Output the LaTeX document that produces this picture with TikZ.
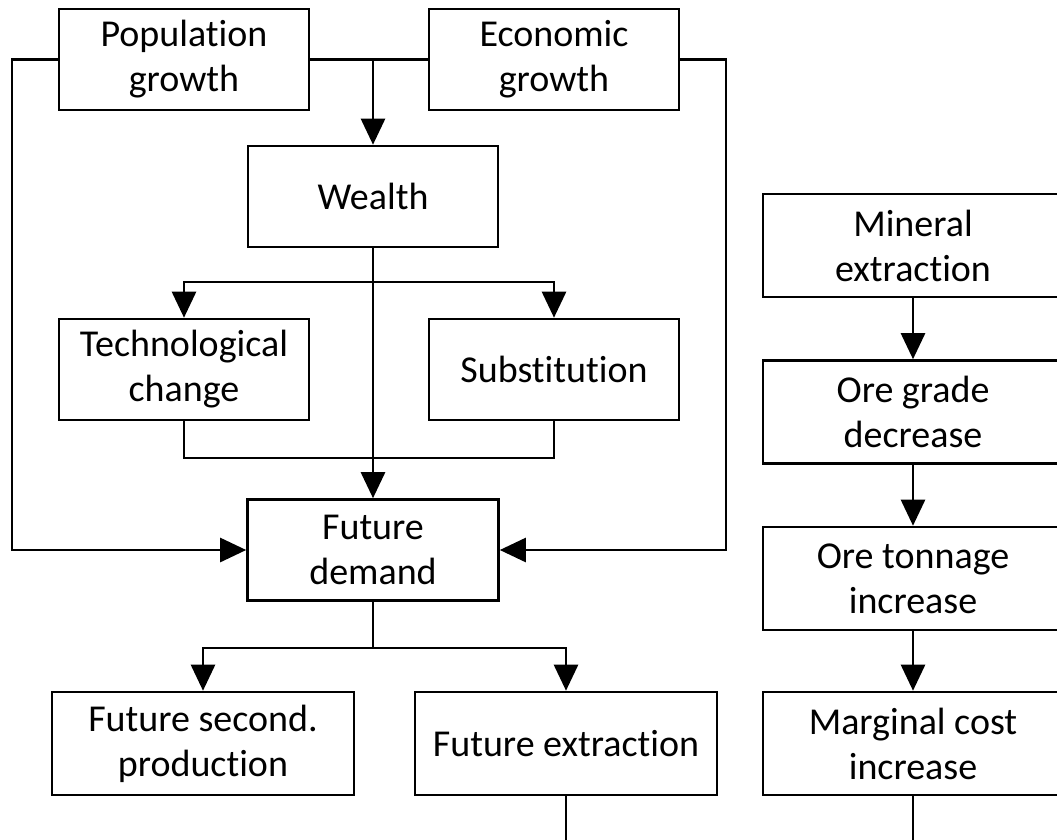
\documentclass[tikz,border=0pt]{standalone}
\usepackage{fontspec}
\setmainfont[Ligatures=NoCommon]{Carlito}
\usetikzlibrary{arrows.meta}

\begin{document}
\begin{tikzpicture}[x=1pt,y=-1pt,
  box/.style={draw, line width=2.6pt, rectangle, align=center, inner sep=0pt,
    minimum width=250pt, minimum height=101pt,
    font=\fontsize{38}{45}\selectfont},
  widebox/.style={box, minimum width=302pt, minimum height=103pt},
  lowtext/.style={execute at begin node={\rule{0pt}{34pt}}},
  link/.style={line width=2.6pt},
  arr/.style={link, -{Triangle[length=26pt,width=24pt]}}]
\useasboundingbox (0,0) rectangle (1057,839);
\clip (0,0) rectangle (1057,839);

% demand side
\node[box, lowtext] (pop)    at (184,59.5)  {Population\\growth};
\node[box, lowtext] (econ)   at (554,59.5)  {Economic\\growth};
\node[box] (wealth) at (373,196.5) {Wealth};
\node[box, lowtext] (tech)   at (184,369.5) {Technological\\change};
\node[box] (subst)  at (554,369.5) {Substitution};
\node[box, lowtext, minimum width=251pt] (fd) at (373,550) {Future\\demand};
\node[widebox] (fsp) at (203,743.5) {Future second.\\production};
\node[widebox] (fe)  at (566,743.5) {Future extraction};

% supply side
\node[widebox, lowtext, minimum width=300pt] (me) at (913,245.5) {Mineral\\extraction};
\node[widebox, lowtext, minimum width=300pt] (og) at (913,412)   {Ore grade\\decrease};
\node[widebox, lowtext, minimum width=300pt] (ot) at (913,578.5) {Ore tonnage\\increase};
\node[widebox, minimum width=300pt] (mc) at (913,743.5) {Marginal cost\\increase};

% helper points
\coordinate (lt) at (12,550);
\coordinate (rt) at (726,550);
\coordinate (b1) at (373,282);
\coordinate (jn) at (373,458);
\coordinate (b2) at (373,648);
\coordinate (feend) at (566,850);
\coordinate (mcend) at (913,850);

% growth drivers
\draw[link] (pop.east) -- (econ.west);
\draw[arr] (wealth.north |- pop.east) -- (wealth.north);
\draw[arr] (pop.west) -| (lt) -- (fd.west);
\draw[arr] (econ.east) -| (rt) -- (fd.east);

% wealth effects
\draw[arr] (b1) -| (tech.north);
\draw[arr] (b1) -| (subst.north);
\draw[arr] (wealth.south) -- (fd.north);
\draw[link] (tech.south) |- (jn) -| (subst.south);

% demand split
\draw[link] (fd.south) -- (b2);
\draw[arr] (b2) -| (fsp.north);
\draw[arr] (b2) -| (fe.north);
\draw[link] (fe.south) -- (feend);

% extraction chain
\draw[arr] (me.south) -- (og.north);
\draw[arr] (og.south) -- (ot.north);
\draw[arr] (ot.south) -- (mc.north);
\draw[link] (mc.south) -- (mcend);
\end{tikzpicture}
\end{document}
